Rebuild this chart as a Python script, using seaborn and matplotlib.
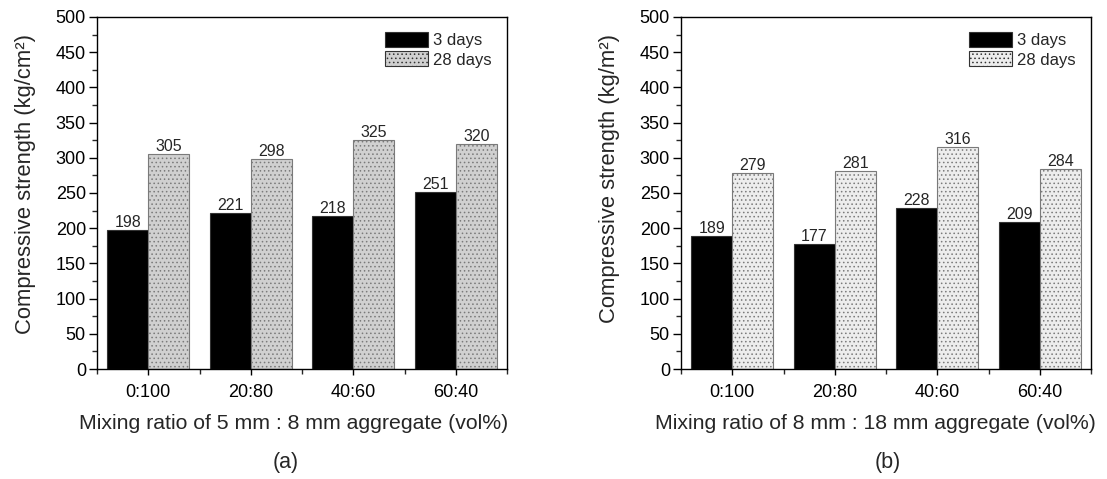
import matplotlib
matplotlib.use("Agg")
import matplotlib.pyplot as plt
import seaborn as sns
import pandas as pd
from matplotlib.ticker import MultipleLocator, FixedLocator

ratios_a = ["0:100", "20:80", "40:60", "60:40"]
day3_a = [198, 221, 218, 251]
day28_a = [305, 298, 325, 320]

ratios_b = ["0:100", "20:80", "40:60", "60:40"]
day3_b = [189, 177, 228, 209]
day28_b = [279, 281, 316, 284]

series = ["3 days", "28 days"]

sns.set_theme(style="ticks")
plt.rcParams['font.family'] = ['Liberation Sans', 'DejaVu Sans']
plt.rcParams['hatch.linewidth'] = 0.6

def make_df(ratios, d3, d28):
    return pd.DataFrame({
        "ratio": ratios * 2,
        "value": d3 + d28,
        "age": [series[0]] * len(ratios) + [series[1]] * len(ratios),
    })

fig = plt.figure(figsize=(11.07, 4.79), dpi=100)
W, H = 1107, 479
axA = fig.add_axes([97 / W, (H - 369) / H, 410 / W, 352 / H])
axB = fig.add_axes([681 / W, (H - 369) / H, 410 / W, 352 / H])

panels = [
    (axA, make_df(ratios_a, day3_a, day28_a), "#d0d0d0", "Compressive strength (kg/cm²)",
     "Mixing ratio of 5 mm : 8 mm aggregate (vol%)", "(a)", 0.46, 0.526, 0.48),
    (axB, make_df(ratios_b, day3_b, day28_b), "#ededed", "Compressive strength (kg/m²)",
     "Mixing ratio of 8 mm : 18 mm aggregate (vol%)", "(b)", 0.505, 0.54, 0.475),
]

for ax, df, grey, ylab, xlab, tag, tagx, ylaby, xlabx in panels:
    sns.barplot(data=df, x="ratio", y="value", hue="age",
                palette=["#000000", grey], width=0.8, ax=ax,
                edgecolor="#333333", linewidth=0.8, saturation=1)
    for i, cont in enumerate(ax.containers):
        if i == 1:
            for p in cont:
                p.set_hatch("....")
                p.set_edgecolor("#7a7a7a")
        ax.bar_label(cont, fmt="%d", fontsize=11.5, padding=0)
    ax.set_ylim(0, 500)
    ax.set_xlim(-0.5, 3.5)
    ax.yaxis.set_major_locator(MultipleLocator(50))
    ax.yaxis.set_minor_locator(MultipleLocator(25))
    ax.xaxis.set_minor_locator(FixedLocator([-0.5, 0.5, 1.5, 2.5, 3.5]))
    ax.tick_params(axis="y", which="major", direction="out", length=6, width=1,
                   labelsize=13, colors="black", pad=2)
    ax.tick_params(axis="x", which="major", direction="out", length=4, width=1,
                   labelsize=13, colors="black", pad=7)
    ax.tick_params(axis="both", which="minor", direction="out", length=3.5, width=1)
    for s in ax.spines.values():
        s.set_visible(True)
        s.set_linewidth(1)
        s.set_color("black")
    ax.set_ylabel(ylab, fontsize=15.8, labelpad=14)
    ax.yaxis.label.set_y(ylaby)
    ax.set_xlabel(xlab, fontsize=15.3, labelpad=9)
    ax.xaxis.label.set_x(xlabx)
    leg = ax.legend(loc="upper right", frameon=False, fontsize=12,
                    handlelength=2.6, handleheight=1.0, handletextpad=0.3,
                    labelspacing=0.2, borderaxespad=0.5)
    for h in leg.legend_handles[1:]:
        h.set_hatch("....")
    ax.text(tagx, -0.235, tag, transform=ax.transAxes, ha="center", va="top", fontsize=15.5)

fig.savefig("out.png", dpi=100)
